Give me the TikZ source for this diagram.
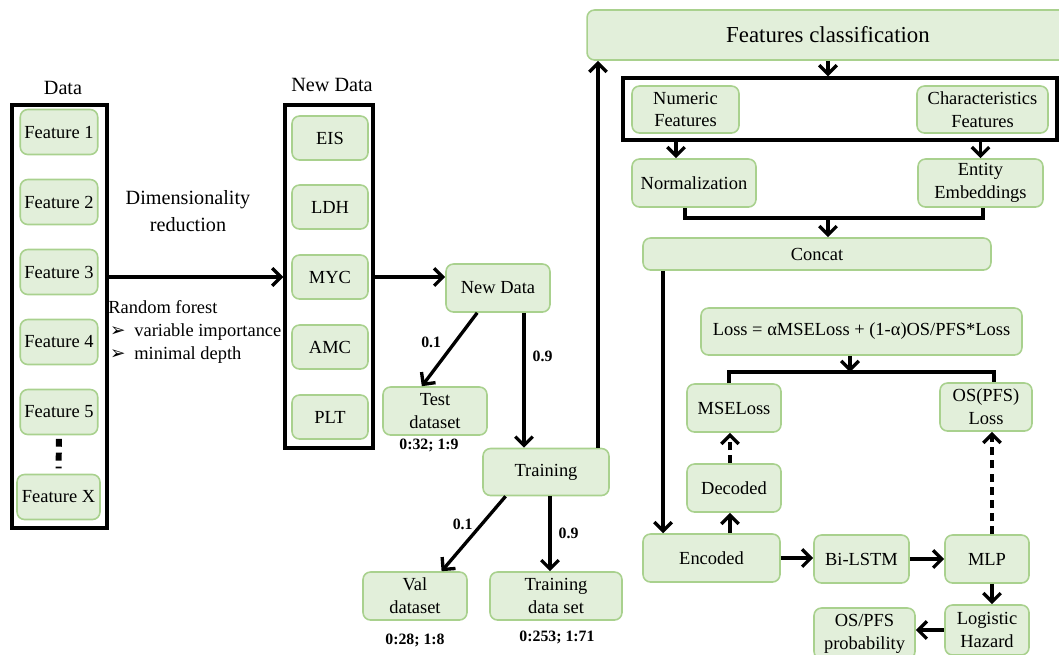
\documentclass[tikz,border=0pt]{standalone}
\usepackage{fontspec}
\setmainfont{Liberation Serif}
\newfontfamily\symfont{DejaVu Sans}
\usetikzlibrary{positioning, calc, arrows.meta}
\definecolor{boxfill}{HTML}{E2EFDA}
\definecolor{boxedge}{HTML}{A9D18E}
\tikzset{block/.style={draw=boxedge, fill=boxfill, line width=0.9pt, rounded corners=0.15cm, align=center, inner sep=1pt, font=\fontsize{10.5}{13}\selectfont},
group/.style={draw, line width=1.9pt},
line/.style={-{Straight Barb[length=5pt,width=10pt]}, line width=1.9pt},
dline/.style={line, dash pattern=on 4.5pt off 3pt},
link/.style={line width=1.9pt},
count/.style={inner sep=1pt, font=\bfseries\fontsize{9}{11}\selectfont},
title/.style={font=\fontsize{11.5}{15.3}\selectfont}
}

\begin{document}
\begin{tikzpicture}[x=0.02cm, y=-0.02cm]
\useasboundingbox (0,0) rectangle (1059,654);
\clip (0,0) rectangle (1059,654);

% data before reduction
\node[title] (datatitle) at (63,88) {Data};
\node[group, minimum width=1.9cm, minimum height=8.46cm] (data) at (59.5,316.5) {};
\node[block, minimum width=1.55cm, minimum height=0.9cm] (f1) at (59,132) {Feature 1};
\node[block, minimum width=1.55cm, minimum height=0.9cm] (f2) at (59,202) {Feature 2};
\node[block, minimum width=1.55cm, minimum height=0.9cm] (f3) at (59,272) {Feature 3};
\node[block, minimum width=1.55cm, minimum height=0.9cm] (f4) at (59,342) {Feature 4};
\node[block, minimum width=1.55cm, minimum height=0.9cm] (f5) at (59,412) {Feature 5};
\node[block, minimum width=1.66cm, minimum height=0.9cm] (fx) at (58.5,497) {Feature X};
\draw[line width=3.4pt, dash pattern=on 4.5pt off 3.4pt, shorten <=2pt, shorten >=3pt] (f5.south) -- (fx.north);

\node[title, align=center] (dimred) at (188,211) {Dimensionality\\reduction};
\node[anchor=west, align=left, inner sep=0pt, font=\fontsize{10.5}{13.3}\selectfont] (rf) at (108,332) {Random forest\\\hspace*{1pt}{\symfont ➢}\hspace{5pt}variable importance\\\hspace*{1pt}{\symfont ➢}\hspace{5pt}minimal depth};

% selected variables
\node[title] (newtitle) at (332,85) {New Data};
\node[group, minimum width=1.76cm, minimum height=6.86cm] (newset) at (329,276.5) {};
\node[block, minimum width=1.52cm, minimum height=0.88cm] (eis) at (330,138) {EIS};
\node[block, minimum width=1.52cm, minimum height=0.88cm] (ldh) at (330,207) {LDH};
\node[block, minimum width=1.52cm, minimum height=0.88cm] (myc) at (330,277) {MYC};
\node[block, minimum width=1.52cm, minimum height=0.88cm] (amc) at (330,347) {AMC};
\node[block, minimum width=1.52cm, minimum height=0.88cm] (plt) at (330,417) {PLT};

\draw[line] (data.east |- myc) -- (newset.west |- myc);

% splitting
\node[block, minimum width=2.08cm, minimum height=0.96cm] (newdata) at (498,288) {New Data};
\node[block, minimum width=2.08cm, minimum height=0.96cm] (test) at (435,411) {Test\\dataset};
\node[count] (testn) at (429,445) {0:32; 1:9};
\node[block, minimum width=2.52cm, minimum height=0.94cm] (train) at (546,472) {Training};
\node[block, minimum width=2.08cm, minimum height=0.96cm] (val) at (415,596) {Val\\dataset};
\node[count] (valn) at (415,640) {0:28; 1:8};
\node[block, minimum width=2.64cm, minimum height=0.96cm] (trainset) at (556,596) {Training\\data set};
\node[count] (trainsetn) at (557,637) {0:253; 1:71};

\draw[line] (newset.east |- myc) -- (newdata.west |- myc);
\draw[line] (newdata.230) -- node[count, pos=0.4, left=6pt] (p1) {0.1} (test.118);
\draw[line] ([xshift=0.52cm]newdata.south) -- node[count, pos=0.32, right=3pt] (p2) {0.9} ([xshift=0.52cm]newdata.south |- train.north);
\draw[line] (train.211) -- node[count, pos=0.38, left=3pt] (p3) {0.1} (val.43);
\draw[line] ([xshift=0.08cm]train.south) -- node[count, pos=0.49, right=3pt] (p4) {0.9} ([xshift=0.08cm]train.south |- trainset.north);

% model
\node[block, minimum width=9.64cm, minimum height=1cm, font=\fontsize{13}{15}\selectfont] (fc) at (828,35) {Features classification};
\node[group, minimum width=8.68cm, minimum height=1.24cm] (fgroup) at (840,109) {};
\node[block, minimum width=2.14cm, minimum height=0.94cm] (numeric) at (685.5,109.5) {Numeric\\Features};
\node[block, minimum width=2.62cm, minimum height=0.94cm] (charac) at (982.5,109.5) {Characteristics\\Features};
\node[block, minimum width=2.48cm, minimum height=0.96cm] (norm) at (694,183) {Normalization};
\node[block, minimum width=2.5cm, minimum height=0.96cm] (entity) at (980.5,183) {Entity\\Embeddings};
\node[block, minimum width=6.96cm, minimum height=0.64cm] (concat) at (817,254) {Concat};
\node[block, minimum width=6.42cm, minimum height=0.94cm] (loss) at (861.5,331.5) {Loss = αMSELoss + (1-α)OS/PFS*Loss};
\node[block, minimum width=1.88cm, minimum height=0.96cm] (mse) at (734,408) {MSELoss};
\node[block, minimum width=1.84cm, minimum height=0.96cm] (ospfs) at (986,407) {OS(PFS)\\Loss};
\node[block, minimum width=1.88cm, minimum height=0.96cm] (decoded) at (734,488) {Decoded};
\node[block, minimum width=2.74cm, minimum height=0.96cm] (encoded) at (711.5,558) {Encoded};
\node[block, minimum width=1.9cm, minimum height=0.96cm] (bilstm) at (861.5,559) {Bi-LSTM};
\node[block, minimum width=1.68cm, minimum height=0.96cm] (mlp) at (987,559) {MLP};
\node[block, minimum width=1.68cm, minimum height=1cm] (logistic) at (987,630) {Logistic\\Hazard};
\node[block, minimum width=2.02cm, minimum height=1.02cm] (prob) at (864.5,633.5) {OS/PFS\\probability};
\coordinate (j1) at (828,218);
\coordinate (j2) at (850,372);

\draw[line] ([xshift=1.04cm]train.north) -- ([xshift=1.04cm]train.north |- fc.south);
\draw[line] (fc.south) -- (fc.south |- fgroup.north);
\draw[line] ([xshift=-0.36cm]norm.north |- fgroup.south) -- ([xshift=-0.36cm]norm.north);
\draw[line] (entity.north |- fgroup.south) -- (entity.north);
\draw[link] ([xshift=-0.18cm]norm.south) |- (j1) -| ([xshift=0.05cm]entity.south);
\draw[line] (j1) -- (j1 |- concat.north);
\draw[line] ([xshift=-3.08cm]concat.south) -- ([xshift=-3.08cm]concat.south |- encoded.north);
\draw[line] (loss.south -| j2) -- (j2);
\draw[link] ([xshift=-0.1cm]mse.north) |- (j2) -| ([xshift=0.16cm]ospfs.north);
\draw[line] ([xshift=-0.08cm]decoded.south |- encoded.north) -- ([xshift=-0.08cm]decoded.south);
\draw[dline] ([xshift=-0.08cm]decoded.north) -- ([xshift=-0.08cm]mse.south);
\draw[line] (encoded.east) -- (encoded.east -| bilstm.west);
\draw[line] (bilstm.east) -- (bilstm.east -| mlp.west);
\draw[dline] ([xshift=0.1cm]mlp.north) -- ([xshift=0.1cm]mlp.north |- ospfs.south);
\draw[line] ([xshift=0.1cm]mlp.south) -- ([xshift=0.1cm]mlp.south |- logistic.north);
\draw[line] (logistic.west) -- (logistic.west -| prob.east);
\end{tikzpicture}
\end{document}
